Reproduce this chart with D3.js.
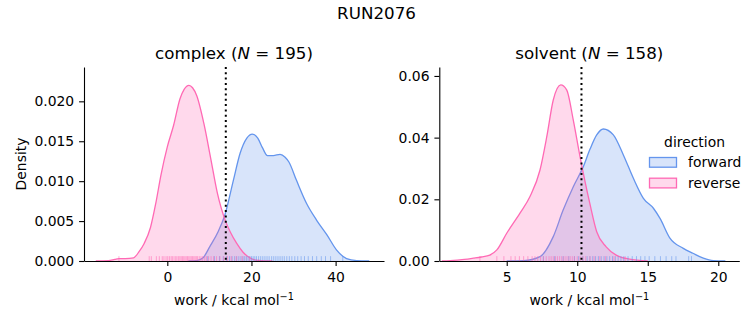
<!DOCTYPE html>
<html><head><meta charset="utf-8">
<script src="https://cdn.jsdelivr.net/npm/d3@7"></script>
<style>
body{margin:0;background:#fff;}
svg{display:block;font-family:"DejaVu Sans",sans-serif;}
</style></head>
<body><svg id="c" width="753" height="325"></svg>
<script>
// ---------- data ----------
const suptitle = "RUN2076";
const panels = ["complex", "solvent"];
const panelN = [195, 158];
const directions = ["forward", "reverse"];
const colors = ["#6495ED", "#FF69B4"];
const dividers = [13.9, 10.3];

// complex KDE curves (work, density)
const complexForwardX = [5, 7, 8.5, 10.1, 12.1, 13.7, 15.7, 17.3, 18.9, 20.2, 21.5, 22.6, 23.8, 25.2, 26.8, 28.0, 28.9, 30.7, 33.1, 35.5, 37.9, 40.2, 42.6, 45, 48];
const complexForwardY = [0, 0.00005, 0.0004, 0.0018, 0.0037, 0.0058, 0.0101, 0.0135, 0.0154, 0.0159, 0.0154, 0.0142, 0.0132, 0.0132, 0.01336, 0.0130, 0.0124, 0.0101, 0.0072, 0.0051, 0.0033, 0.0014, 0.0003, 0.00005, 0];
const complexReverseX = [-17, -14, -12.5, -11.5, -10, -8, -6.8, -5.5, -4, -2.75, -1.5, 0, 1.5, 3, 4, 5.15, 6, 7, 8.7, 10.3, 11.9, 13.9, 15, 16.5, 18, 19.6, 21, 23, 25];
const complexReverseY = [0, 0.00005, 0.0002, 0.0003, 0.0003, 0.0004, 0.0011, 0.0022, 0.0042, 0.0072, 0.0108, 0.0143, 0.0170, 0.0203, 0.0215, 0.0220, 0.0217, 0.0207, 0.0172, 0.0129, 0.0085, 0.0049, 0.0036, 0.0022, 0.0011, 0.0004, 0.0001, 0.00002, 0];

// solvent KDE curves
const solventForwardX = [5, 6.2, 7.36, 8.3, 9.0, 9.72, 10.43, 10.9, 11.38, 11.85, 12.56, 13.27, 13.98, 14.69, 15.4, 15.87, 16.57, 17.52, 18.2, 18.94, 19.65, 20.5];
const solventForwardY = [0, 0.0001, 0.0014, 0.0079, 0.0165, 0.0241, 0.0306, 0.0362, 0.0409, 0.0428, 0.0409, 0.0344, 0.0268, 0.0203, 0.0171, 0.0138, 0.0074, 0.0041, 0.0025, 0.0009, 0.0001, 0];
const solventReverseX = [0.4, 1.0, 2.0, 2.63, 3.2, 3.8, 4.3, 5.0, 5.94, 6.65, 7.36, 7.84, 8.3, 8.83, 9.25, 9.72, 10.2, 10.9, 11.38, 12.05, 12.76, 13.7, 15];
const solventReverseY = [0, 0.0001, 0.0005, 0.0009, 0.0013, 0.0019, 0.0036, 0.009, 0.0155, 0.0209, 0.0295, 0.0403, 0.0522, 0.0571, 0.0555, 0.0457, 0.0338, 0.0185, 0.0095, 0.0046, 0.0019, 0.0006, 0];

// rug samples (approximate)
const complexForwardRug = [9.6, 11.2, 12.4, 13.3, 14.1, 14.8, 15.4, 16.0, 16.5, 17.0, 17.5, 18.0, 18.4, 18.8, 19.2, 19.6, 20.0, 20.4, 20.8, 21.2, 21.7, 22.2, 22.7, 23.2, 23.7, 24.2, 24.8, 25.3, 25.8, 26.3, 26.8, 27.3, 27.8, 28.4, 29.0, 29.6, 30.3, 31.0, 31.8, 32.6, 33.5, 34.5, 35.5, 36.6, 37.6, 38.8, 41.7];
const complexReverseRug = [-11.5, -4.3, -3.8, -2.6, -1.9, -1.2, -0.8, -0.3, 0.1, 0.5, 0.9, 1.2, 1.6, 2.0, 2.3, 2.7, 3.0, 3.3, 3.6, 3.9, 4.2, 4.5, 4.8, 5.1, 5.4, 5.7, 6.0, 6.3, 6.6, 6.9, 7.2, 7.6, 8.0, 8.4, 8.9, 9.3, 9.8, 10.4, 11.0, 11.7, 12.5, 13.4, 14.3, 15.2, 16.4, 17.8, 19.6];
const solventForwardRug = [7.6, 8.4, 9.0, 9.4, 9.8, 10.1, 10.4, 10.7, 10.9, 11.1, 11.3, 11.5, 11.7, 11.9, 12.1, 12.3, 12.5, 12.7, 12.9, 13.1, 13.3, 13.6, 13.9, 14.2, 14.5, 14.8, 15.1, 15.5, 15.9, 16.3, 16.7, 17.0, 17.9, 18.1];
const solventReverseRug = [3.1, 4.3, 4.8, 5.3, 5.6, 5.9, 6.2, 6.5, 6.8, 7.0, 7.2, 7.4, 7.6, 7.8, 8.0, 8.15, 8.3, 8.45, 8.6, 8.75, 8.9, 9.05, 9.2, 9.35, 9.5, 9.65, 9.8, 10.0, 10.2, 10.4, 10.6, 10.9, 11.2, 11.6, 12.0, 12.6, 13.4];

// axes
const xDomains = [[-19.8, 51.5], [0.22, 21.49]];
const yDomains = [[0, 0.0243], [0, 0.0629]];
const xTicks = [[0, 20, 40], [5, 10, 15, 20]];
const yTicks = [[0, 0.005, 0.01, 0.015, 0.02], [0, 0.02, 0.04, 0.06]];
const yFormats = [".3f", ".2f"];

// ---------- drawing ----------
const svg = d3.select("#c");
const FS = 13.9;
const layout = [{x0: 84, x1: 384}, {x0: 439.3, x1: 739.3}];
const yTop = 67, yBot = 261;

const curves = [
  [[complexForwardX, complexForwardY], [complexReverseX, complexReverseY]],
  [[solventForwardX, solventForwardY], [solventReverseX, solventReverseY]]
];
const rugs = [[complexForwardRug, complexReverseRug], [solventForwardRug, solventReverseRug]];

svg.append("text").attr("x", 376.5).attr("y", 18.5).attr("text-anchor", "middle")
  .attr("font-size", 16.7).attr("fill", "#000").text(suptitle);

panels.forEach((p, i) => {
  const L = layout[i];
  const x = d3.scaleLinear().domain(xDomains[i]).range([L.x0, L.x1]);
  const y = d3.scaleLinear().domain(yDomains[i]).range([yBot, yTop]);
  const g = svg.append("g");

  // areas
  directions.forEach((dname, k) => {
    const [xs, ys] = curves[i][k];
    const pts = xs.map((v, j) => [v, ys[j]]);
    const area = d3.area().x(d => x(d[0])).y0(y(0)).y1(d => y(d[1])).curve(d3.curveMonotoneX);
    const line = d3.line().x(d => x(d[0])).y(d => y(d[1])).curve(d3.curveMonotoneX);
    g.append("path").attr("d", area(pts)).attr("fill", colors[k]).attr("fill-opacity", 0.25);
    g.append("path").attr("d", line(pts)).attr("fill", "none").attr("stroke", colors[k]).attr("stroke-width", 1.3);
  });
  // rugs
  directions.forEach((dname, k) => {
    g.selectAll(null).data(rugs[i][k]).enter().append("line")
      .attr("x1", d => x(d)).attr("x2", d => x(d))
      .attr("y1", yBot).attr("y2", yBot - 4.85)
      .attr("stroke", colors[k]).attr("stroke-opacity", 0.55).attr("stroke-width", 1);
  });
  // divider
  g.append("line").attr("x1", x(dividers[i])).attr("x2", x(dividers[i]))
    .attr("y1", yTop).attr("y2", yBot).attr("stroke", "#000")
    .attr("stroke-width", 2).attr("stroke-dasharray", "2,3.3");

  // axes
  const xa = g.append("g").attr("transform", `translate(0,${yBot})`)
    .call(d3.axisBottom(x).tickValues(xTicks[i]).tickFormat(d3.format("d")).tickSize(4.9).tickPadding(6.5).tickSizeOuter(0));
  const ya = g.append("g").attr("transform", `translate(${L.x0},0)`)
    .call(d3.axisLeft(y).tickValues(yTicks[i]).tickFormat(d3.format(yFormats[i])).tickSize(4.9).tickPadding(4.9).tickSizeOuter(0));
  [xa, ya].forEach(a => {
    a.selectAll("path, line").attr("stroke", "#000").attr("stroke-width", 1.1);
    a.selectAll("text").attr("font-size", FS).attr("fill", "#000").attr("font-family", "DejaVu Sans");
  });

  // title
  const cx = (L.x0 + L.x1) / 2;
  const t = svg.append("text").attr("x", cx).attr("y", 59).attr("text-anchor", "middle")
    .attr("font-size", 16.7).attr("fill", "#000");
  t.append("tspan").text(p + " (");
  t.append("tspan").attr("font-style", "italic").text("N");
  t.append("tspan").text(" = " + panelN[i] + ")");

  // x label
  const xl = svg.append("text").attr("x", cx).attr("y", 305).attr("text-anchor", "middle")
    .attr("font-size", FS).attr("fill", "#000");
  xl.append("tspan").text("work / kcal mol");
  xl.append("tspan").attr("font-size", FS * 0.7).attr("dy", -5.5).text("\u22121");
});

// y label
svg.append("text").attr("transform", "translate(26,164) rotate(-90)").attr("text-anchor", "middle")
  .attr("font-size", FS).attr("fill", "#000").text("Density");

// legend
const lg = svg.append("g");
lg.append("text").attr("x", 694.5).attr("y", 147).attr("text-anchor", "middle")
  .attr("font-size", FS).attr("fill", "#000").text("direction");
directions.forEach((d, k) => {
  const yy = 157.5 + k * 20.7;
  lg.append("rect").attr("x", 649.5).attr("y", yy).attr("width", 27).attr("height", 9.7)
    .attr("fill", colors[k]).attr("fill-opacity", 0.25).attr("stroke", colors[k]).attr("stroke-width", 1.3);
  lg.append("text").attr("x", 688).attr("y", yy + 9.5).attr("font-size", FS).attr("fill", "#000").text(d);
});
</script></body></html>
